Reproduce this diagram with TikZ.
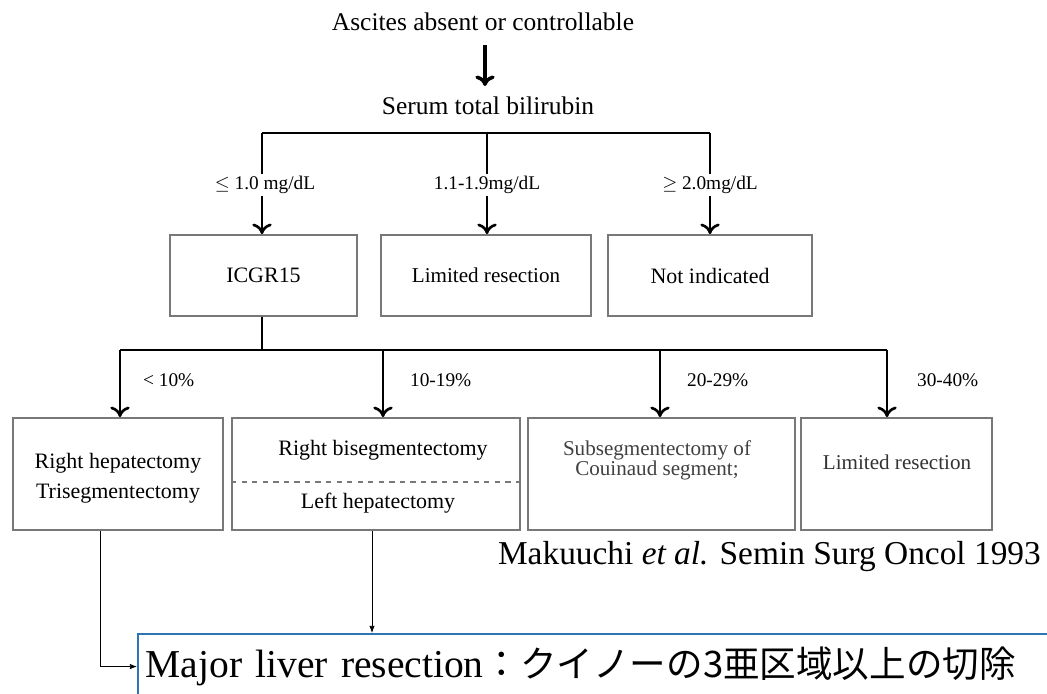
\documentclass[tikz,border=0pt]{standalone}
\usepackage{fontspec}
\setmainfont{Liberation Serif}
\newfontfamily\jpfont{Noto Sans CJK JP}
\usetikzlibrary{arrows.meta}
\definecolor{boxgray}{RGB}{120,120,120}
\definecolor{majorblue}{RGB}{46,117,182}
\begin{document}
\begin{tikzpicture}{}
    \tikzstyle{every node}=[align=center, inner sep=1pt];
    \tikzstyle{block} = [draw=boxgray, line width=1pt, inner sep=0pt]
    \tikzstyle{flow} = [->, line width=1.5pt, >={To[length=6pt,width=11pt]}]
    \tikzstyle{bar} = [line width=1.6pt]
    \tikzstyle{link} = [->, thin, >={Latex[length=4pt,width=3pt]}]
    \tikzstyle{lbl} = [font=\fontsize{11}{13}\selectfont]

    \useasboundingbox (0,0) rectangle (20.94,-13.86);
    \clip (0,0) rectangle (20.94,-13.86);

    \node[font=\fontsize{14.5}{16}\selectfont] (Ascites) at (9.66,-0.44) {Ascites absent or controllable};
    \node[font=\fontsize{14.5}{16}\selectfont] (Serum) at (9.76,-2.12) {Serum total bilirubin};
    \draw[flow, line width=2pt] (9.7,-0.9) -- (9.7,-1.72);

    % bilirubin branches
    \coordinate (B1) at (5.24,-2.66);
    \coordinate (B2) at (9.74,-2.66);
    \coordinate (B3) at (14.2,-2.66);
    \node[lbl] (Low) at (5.3,-3.7) {$\leq$ 1.0 mg/dL};
    \node[lbl] (Mid) at (9.74,-3.7) {1.1-1.9mg/dL};
    \node[lbl] (High) at (14.2,-3.7) {$\geq$ 2.0mg/dL};
    \node[block, minimum width=3.74cm, minimum height=1.62cm, font=\fontsize{12.5}{14}\selectfont] (ICG) at (5.27,-5.51) {ICGR15};
    \node[block, minimum width=4.2cm, minimum height=1.62cm, font=\fontsize{12}{14}\selectfont] (Limited) at (9.72,-5.51) {\raisebox{-6pt}{Limited resection}};
    \node[block, minimum width=4.08cm, minimum height=1.62cm, font=\fontsize{12.5}{14}\selectfont] (NotInd) at (14.2,-5.51) {Not indicated};

    \draw[bar] (B1) -- (B3);
    \draw[bar] (B1) -- (B1 |- Low.north);
    \draw[bar] (B2) -- (B2 |- Mid.north);
    \draw[bar] (B3) -- (B3 |- High.north);
    \draw[flow] (B1 |- Low.south) -- (B1 |- ICG.north);
    \draw[flow] (B2 |- Mid.south) -- (B2 |- Limited.north);
    \draw[flow] (B3 |- High.south) -- (B3 |- NotInd.north);

    % ICGR15 branches
    \coordinate (C0) at (5.24,-7.0);
    \coordinate (C1) at (2.4,-7.0);
    \coordinate (C2) at (7.66,-7.0);
    \coordinate (C3) at (13.2,-7.0);
    \coordinate (C4) at (17.74,-7.0);
    \node[block, minimum width=4.2cm, minimum height=2.24cm] (Right) at (2.36,-9.48) {};
    \node[block, minimum width=5.76cm, minimum height=2.24cm] (Bisegment) at (7.52,-9.48) {};
    \node[block, minimum width=5.34cm, minimum height=2.24cm] (Subsegment) at (13.23,-9.48) {};
    \node[block, minimum width=3.82cm, minimum height=2.24cm] (LimitedB) at (17.93,-9.48) {};

    \draw[bar] (ICG.south -| C0) -- (C0);
    \draw[bar] (C1) -- (C4);
    \foreach \c/\b in {C1/Right, C2/Bisegment, C3/Subsegment, C4/LimitedB}
        \draw[flow] (\c) -- (\c |- \b.north);

    \node[lbl, anchor=west] (P1) at (2.82,-7.6) {< 10\%};
    \node[lbl, anchor=west] (P2) at (8.16,-7.6) {10-19\%};
    \node[lbl, anchor=west] (P3) at (13.7,-7.6) {20-29\%};
    \node[lbl, anchor=west] (P4) at (18.3,-7.6) {30-40\%};

    \node[font=\fontsize{12.5}{17}\selectfont] (RightTxt) at (2.36,-9.56) {Right hepatectomy \\ Trisegmentectomy};
    \node[font=\fontsize{12.5}{14}\selectfont] (BisegTxt) at (7.66,-9.0) {Right bisegmentectomy};
    \node[font=\fontsize{12.5}{14}\selectfont] (LeftTxt) at (7.56,-10.06) {Left hepatectomy};
    \draw[dashed, draw=boxgray, line width=1.2pt] (Bisegment.west |- 0,-9.64) -- (Bisegment.east |- 0,-9.64);
    \node[font=\fontsize{12}{11.5}\selectfont, text=black!75] (SubTxt) at (13.14,-9.2) {Subsegmentectomy of \\ Couinaud segment;};
    \node[font=\fontsize{12}{14}\selectfont, text=black!80] (LimTxt) at (17.94,-9.24) {Limited resection};

    \node[anchor=east, font=\fontsize{19}{21}\selectfont] (Cite) at (20.86,-11.14) {Makuuchi \textit{et al.} Semin Surg Oncol 1993};

    \node[draw=majorblue, line width=1.2pt, anchor=north west, minimum width=19cm, minimum height=1.3cm, inner sep=0pt, text width=18.7cm, align=left, font=\fontsize{22.5}{24}\selectfont] (Major) at (2.74,-12.66) {Major liver resection{\jpfont\fontsize{20.8}{24}\selectfont ：クイノーの3亜区域以上の切除}};

    \draw[link] ([xshift=-0.36cm]Right.south) |- (Major.west);
    \draw[link] ([xshift=-0.08cm]Bisegment.south) -- ([xshift=-0.08cm]Bisegment.south |- Major.north);

\end{tikzpicture}
\end{document}
